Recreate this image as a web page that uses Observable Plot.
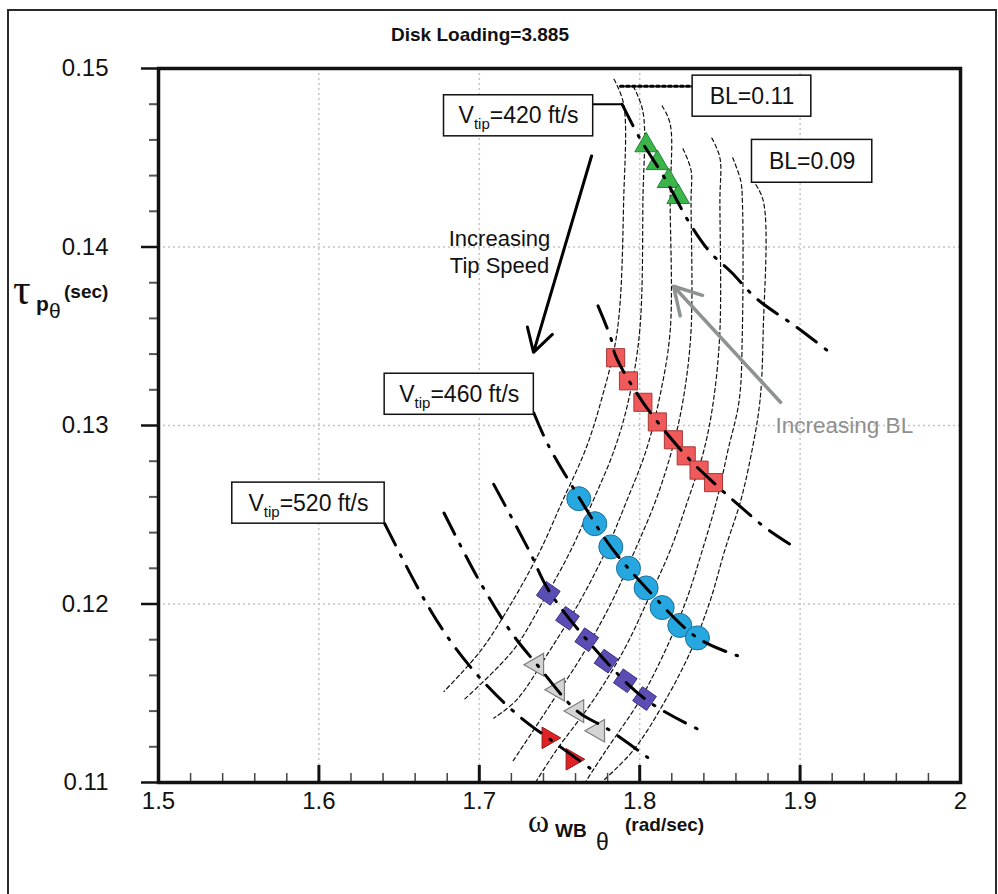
<!DOCTYPE html>
<html>
<head>
<meta charset="utf-8">
<script src="https://cdn.jsdelivr.net/npm/d3@7"></script>
<script src="https://cdn.jsdelivr.net/npm/@observablehq/plot@0.6"></script>
<style>
html,body{margin:0;padding:0;background:#fff;}
#wrap{position:relative;width:998px;height:894px;overflow:hidden;font-family:"Liberation Sans",Arial,sans-serif;background:#fff;}
#chart{position:absolute;left:0;top:0;}
#overlay{position:absolute;left:0;top:0;}
#border{position:absolute;left:7px;top:9px;width:990px;height:900px;border:2px solid #2a2a2a;box-sizing:border-box;pointer-events:none;}
</style>
</head>
<body>
<div id="wrap">
<div id="chart"></div>
<svg id="overlay" width="998" height="894" font-family="Liberation Sans, Arial, sans-serif" fill="#111">
<text x="480" y="41" text-anchor="middle" font-size="19" font-weight="bold">Disk Loading=3.885</text>
<text x="13" y="304" font-size="44" font-family="Liberation Serif, serif">τ</text>
<text x="36" y="311" font-size="21" font-weight="bold">p</text>
<text x="49" y="318" font-size="21">θ</text>
<text x="64" y="298" font-size="19" font-weight="bold">(sec)</text>
<text x="528" y="832" font-size="32" font-family="Liberation Serif, serif">ω</text>
<text x="555" y="837" font-size="19" font-weight="bold">WB</text>
<text x="596" y="850" font-size="23">θ</text>
<text x="625" y="831" font-size="19" font-weight="bold">(rad/sec)</text>
</svg>
<div id="border"></div>
</div>
<script>
// ---- axis ticks ----
const xMajor = [1.5, 1.6, 1.7, 1.8, 1.9, 2.0];
const xMinor = [1.52,1.54,1.56,1.58,1.62,1.64,1.66,1.68,1.72,1.74,1.76,1.78,1.82,1.84,1.86,1.88,1.92,1.94,1.96,1.98];
const yMajor = [0.11, 0.12, 0.13, 0.14, 0.15];
const yMinor = [0.112,0.114,0.116,0.118,0.122,0.124,0.126,0.128,0.132,0.134,0.136,0.138,0.142,0.144,0.146,0.148];

// ---- marker series (omega_WB, tau_p) ----
const greenTri_w   = [1.804, 1.811, 1.818, 1.824];
const greenTri_tau = [0.1457, 0.1447, 0.1437, 0.1428];
const redSq_w      = [1.785, 1.793, 1.802, 1.811, 1.821, 1.829, 1.837, 1.846];
const redSq_tau    = [0.1338, 0.1325, 0.1313, 0.1302, 0.1292, 0.1283, 0.1275, 0.1268];
const cyanCirc_w   = [1.762, 1.772, 1.782, 1.793, 1.804, 1.814, 1.825, 1.836];
const cyanCirc_tau = [0.1259, 0.1245, 0.1232, 0.1220, 0.1209, 0.1198, 0.1188, 0.1181];
const purpDia_w    = [1.743, 1.755, 1.767, 1.779, 1.791, 1.803];
const purpDia_tau  = [0.1206, 0.1192, 0.1180, 0.1168, 0.1157, 0.1147];
const grayTri_w    = [1.736, 1.749, 1.761, 1.774];
const grayTri_tau  = [0.1166, 0.1152, 0.1140, 0.1129];
const redTri_w     = [1.743, 1.758];
const redTri_tau   = [0.1125, 0.1113];

// ---- constant tip-speed lines (dash-dot) ----
const vtip1 = [[1.789,0.1480],[1.800,0.1461],[1.816,0.1438],[1.832,0.1412],[1.844,0.1397],[1.857,0.1386],[1.873,0.1371],[1.898,0.1355],[1.917,0.1342]];
const vtip2 = [[1.774,0.1367],[1.782,0.1349],[1.785,0.1339],[1.802,0.1313],[1.829,0.1283],[1.846,0.1268],[1.861,0.1256],[1.878,0.1243],[1.898,0.1231]];
const vtip3 = [[1.734,0.1307],[1.743,0.1289],[1.762,0.1260],[1.782,0.1232],[1.804,0.1209],[1.836,0.1181],[1.861,0.1171]];
const vtip4 = [[1.709,0.1267],[1.731,0.1230],[1.743,0.1208],[1.767,0.1180],[1.803,0.1147],[1.836,0.1130]];
const vtip5 = [[1.678,0.1251],[1.700,0.1213],[1.720,0.1184],[1.736,0.1166],[1.761,0.1140],[1.780,0.1130],[1.805,0.1114]];
const vtip6 = [[1.641,0.1245],[1.666,0.1202],[1.683,0.1178],[1.702,0.1157],[1.725,0.1137],[1.749,0.1121],[1.769,0.1108]];

// ---- constant BL curves (thin dashed) ----
const bl1 = [[1.784,0.1494],[1.790,0.1480],[1.790,0.1426],[1.786,0.1353],[1.776,0.1314],[1.766,0.1286],[1.752,0.1258],[1.738,0.1230],[1.721,0.1202],[1.701,0.1174],[1.678,0.1151]];
const bl2 = [[1.796,0.1490],[1.802,0.1476],[1.802,0.1426],[1.800,0.1353],[1.793,0.1314],[1.784,0.1286],[1.771,0.1258],[1.757,0.1230],[1.740,0.1202],[1.721,0.1174],[1.690,0.1146]];
const bl3 = [[1.814,0.1479],[1.819,0.1469],[1.819,0.1426],[1.819,0.1353],[1.812,0.1314],[1.804,0.1286],[1.792,0.1258],[1.779,0.1230],[1.763,0.1202],[1.744,0.1174],[1.723,0.1146],[1.709,0.1136]];
const bl4 = [[1.827,0.1455],[1.832,0.1443],[1.832,0.1426],[1.832,0.1353],[1.827,0.1314],[1.820,0.1286],[1.810,0.1258],[1.797,0.1230],[1.783,0.1202],[1.766,0.1174],[1.746,0.1146],[1.721,0.1112]];
const bl5 = [[1.845,0.1461],[1.850,0.1450],[1.850,0.1426],[1.850,0.1353],[1.846,0.1314],[1.840,0.1286],[1.830,0.1258],[1.819,0.1230],[1.805,0.1202],[1.790,0.1174],[1.771,0.1146],[1.748,0.1118],[1.735,0.1100]];
const bl6 = [[1.858,0.1450],[1.863,0.1437],[1.864,0.1426],[1.864,0.1353],[1.862,0.1314],[1.855,0.1286],[1.848,0.1258],[1.839,0.1230],[1.829,0.1202],[1.816,0.1174],[1.800,0.1146],[1.779,0.1118],[1.766,0.1100]];
const bl7 = [[1.870,0.1438],[1.877,0.1426],[1.877,0.1353],[1.875,0.1314],[1.870,0.1286],[1.863,0.1258],[1.853,0.1230],[1.844,0.1202],[1.832,0.1174],[1.816,0.1146],[1.796,0.1118],[1.776,0.1100]];

// ---- annotations (data coordinates) ----
const boxLabels = ["V|tip|=420 ft/s", "V|tip|=460 ft/s", "V|tip|=520 ft/s", "BL=0.11", "BL=0.09"];
const boxX1 = [1.678, 1.641, 1.546, 1.833, 1.870];
const boxX2 = [1.771, 1.734, 1.641, 1.907, 1.945];
const boxY1 = [0.1462, 0.1306, 0.1245, 0.1473, 0.1436];
const boxY2 = [0.1485, 0.1329, 0.1268, 0.1496, 0.1460];
const leader420 = [[1.771,0.1480],[1.789,0.1480]];
const leaderBL11 = [[1.788,0.1490],[1.833,0.1490]];
const arrowTip = {x1: 1.770, y1: 0.1451, x2: 1.7338, y2: 0.1341};
const arrowBL  = {x1: 1.8878, y1: 0.1313, x2: 1.8211, y2: 0.1378};

// ---- helpers ----
const pts = (w, t) => w.map((x, i) => ({w: x, tau: t[i]}));
const pairs = (arr) => arr.map(([w, tau]) => ({w, tau}));
const tagged = (list) => list.flatMap((arr, k) => arr.map(([w, tau]) => ({w, tau, k})));
const boxes = boxLabels.map((label, i) => ({label, x1: boxX1[i], x2: boxX2[i], y1: boxY1[i], y2: boxY2[i]}));

const triLeft = {draw(ctx, size) {
  const s = Math.sqrt(size / (Math.sqrt(3) / 4)), h = s * Math.sqrt(3) / 2;
  ctx.moveTo(-2 * h / 3, 0); ctx.lineTo(h / 3, -s / 2); ctx.lineTo(h / 3, s / 2); ctx.closePath();
}};
const triRight = {draw(ctx, size) {
  const s = Math.sqrt(size / (Math.sqrt(3) / 4)), h = s * Math.sqrt(3) / 2;
  ctx.moveTo(2 * h / 3, 0); ctx.lineTo(-h / 3, -s / 2); ctx.lineTo(-h / 3, s / 2); ctx.closePath();
}};
const tiltedSquare = {draw(ctx, size) {
  const h = Math.sqrt(size) / 2, a = 35 * Math.PI / 180;
  const c = [[-h, -h], [h, -h], [h, h], [-h, h]].map(([x, y]) => [x * Math.cos(a) - y * Math.sin(a), x * Math.sin(a) + y * Math.cos(a)]);
  ctx.moveTo(c[0][0], c[0][1]); for (let i = 1; i < 4; i++) ctx.lineTo(c[i][0], c[i][1]); ctx.closePath();
}};

const frameH = 894 - 68 - 112;
const dashDot = "24,11,2,11";

const chart = Plot.plot({
  width: 998,
  height: 894,
  marginLeft: 158,
  marginRight: 38,
  marginTop: 68,
  marginBottom: 112,
  x: {domain: [1.5, 2.0]},
  y: {domain: [0.11, 0.15]},
  style: {background: "transparent", fontFamily: "Liberation Sans, Arial, sans-serif", color: "#111"},
  marks: [
    Plot.gridX(xMajor.slice(1, -1), {stroke: "#c4c4c4", strokeOpacity: 1, strokeWidth: 1.5, strokeDasharray: "2,3"}),
    Plot.gridY(yMajor.slice(1, -1), {stroke: "#c4c4c4", strokeOpacity: 1, strokeWidth: 1.5, strokeDasharray: "2,3"}),
    Plot.line(tagged([bl1, bl2, bl3, bl4, bl5, bl6, bl7]), {x: "w", y: "tau", z: "k", stroke: "#111", strokeWidth: 1.2, strokeDasharray: "4,3", curve: "catmull-rom"}),
    Plot.dot(pts(greenTri_w, greenTri_tau), {x: "w", y: "tau", symbol: "triangle", r: 8.4, fill: "#3bb44a", stroke: "#24843a", strokeWidth: 1}),
    Plot.dot(pts(redSq_w, redSq_tau), {x: "w", y: "tau", symbol: "square", r: 10.2, fill: "#f05a5a", stroke: "#a83838", strokeWidth: 1}),
    Plot.dot(pts(cyanCirc_w, cyanCirc_tau), {x: "w", y: "tau", symbol: "circle", r: 12, fill: "#27a7df", stroke: "#18709a", strokeWidth: 1}),
    Plot.dot(pts(purpDia_w, purpDia_tau), {x: "w", y: "tau", symbol: tiltedSquare, r: 9.6, fill: "#5a4db3", stroke: "#3b3286", strokeWidth: 1}),
    Plot.dot(pts(grayTri_w, grayTri_tau), {x: "w", y: "tau", symbol: triLeft, r: 8.4, fill: "#d4d4d4", stroke: "#7d7d7d", strokeWidth: 1.2}),
    Plot.dot(pts(redTri_w, redTri_tau), {x: "w", y: "tau", symbol: triRight, r: 8, fill: "#e02225", stroke: "#9a1418", strokeWidth: 1}),
    Plot.line(tagged([vtip1, vtip2, vtip3, vtip4, vtip5, vtip6]), {x: "w", y: "tau", z: "k", stroke: "#000", strokeWidth: 3, strokeDasharray: dashDot, curve: "catmull-rom"}),
    Plot.line(pairs(leader420), {x: "w", y: "tau", stroke: "#000", strokeWidth: 2}),
    Plot.line(pairs(leaderBL11), {x: "w", y: "tau", stroke: "#000", strokeWidth: 3, strokeDasharray: "3,3"}),
    Plot.arrow([arrowTip], {x1: "x1", y1: "y1", x2: "x2", y2: "y2", stroke: "#000", strokeWidth: 3, headLength: 13}),
    Plot.arrow([arrowBL], {x1: "x1", y1: "y1", x2: "x2", y2: "y2", stroke: "#8e9391", strokeWidth: 3.5, headLength: 13}),
    Plot.text(["Increasing BL"], {x: () => 1.8847, y: () => 0.13, text: d => d, textAnchor: "start", fontSize: 22.5, fill: "#8f8f8f"}),
    Plot.text(["Increasing\nTip Speed"], {x: () => 1.7126, y: () => 0.1398, text: d => d, textAnchor: "middle", fontSize: 22, lineHeight: 1.25, fill: "#111"}),
    Plot.rect(boxes, {x1: "x1", x2: "x2", y1: "y1", y2: "y2", fill: "white", stroke: "#111", strokeWidth: 1.5}),
    Plot.text(boxes, {x: d => (d.x1 + d.x2) / 2, y: d => (d.y1 + d.y2) / 2, text: "label", fontSize: 23, fill: "#111"}),
    Plot.axisY({ticks: yMajor, tickSize: 17, tickPadding: 33, fontSize: 24, tickFormat: d => d.toFixed(2), strokeWidth: 2.5, stroke: "#111", label: null}),
    Plot.axisY({ticks: yMinor, tickSize: 9, fill: "none", stroke: "#555", strokeWidth: 2, label: null}),
    Plot.axisX({ticks: xMajor, tickSize: 0, tickPadding: 9, fontSize: 24, tickFormat: d => (d === 2 ? "2" : d.toFixed(1)), label: null}),
    Plot.tickX(xMajor, {x: d => d, insetTop: frameH - 17, stroke: "#111", strokeWidth: 3}),
    Plot.tickX(xMinor, {x: d => d, insetTop: frameH - 9, stroke: "#444", strokeWidth: 1.5}),
    Plot.frame({stroke: "#111", strokeWidth: 3.5})
  ]
});

// subscripts inside the V_tip boxes
const ns = "http://www.w3.org/2000/svg";
chart.querySelectorAll("text").forEach(t => {
  const s = t.textContent;
  if (s.includes("|")) {
    const [a, b, c] = s.split("|");
    t.textContent = "";
    const t1 = document.createElementNS(ns, "tspan"); t1.textContent = a;
    const t2 = document.createElementNS(ns, "tspan"); t2.textContent = b; t2.setAttribute("font-size", "15"); t2.setAttribute("dy", "6");
    const t3 = document.createElementNS(ns, "tspan"); t3.textContent = c; t3.setAttribute("dy", "-6");
    t.append(t1, t2, t3);
  }
});
document.getElementById("chart").appendChild(chart);
</script>
</body>
</html>
